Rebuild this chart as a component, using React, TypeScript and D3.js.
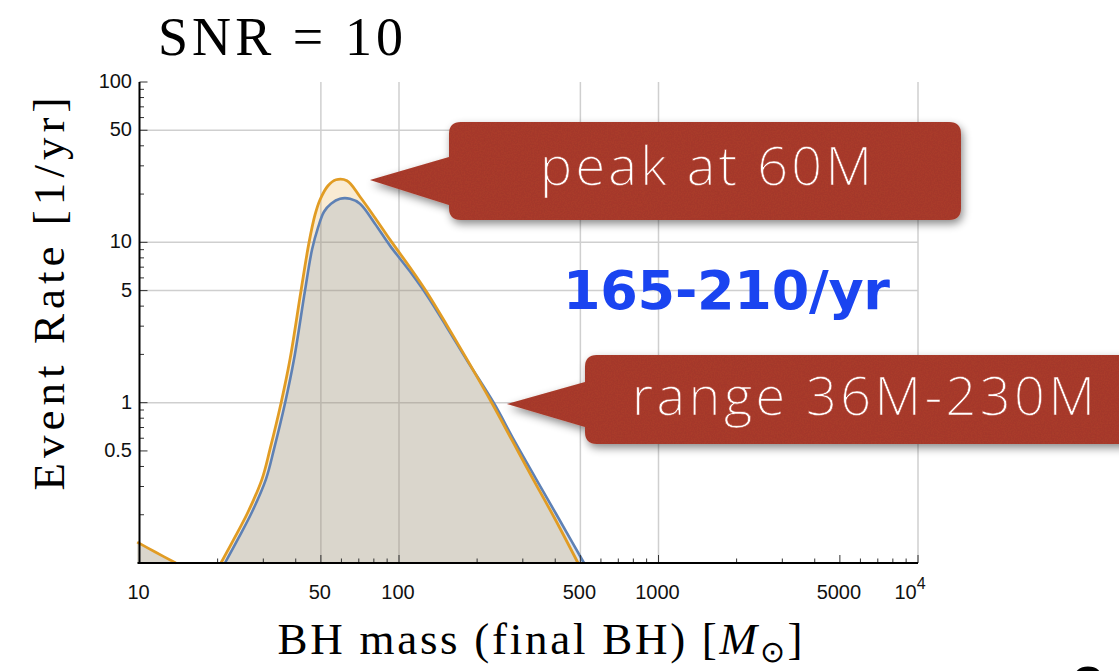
import React from 'react';
import * as d3 from 'd3';

// ---- data ----
const xTickValues = [10, 50, 100, 500, 1000, 5000];
const xTickLabels = ['10', '50', '100', '500', '1000', '5000'];
const yTickValues = [0.5, 1, 5, 10, 50, 100];
const yTickLabels = ['0.5', '1', '5', '10', '50', '100'];
const xGridValues = [50, 100, 500, 1000, 10000];
const yGridValues = [1, 5, 10, 50];

const tailMass = [9.8, 11.5, 13.8];
const tailRate = [0.135, 0.117, 0.1];

const orangeMass = [20.6, 23.13, 26.19, 29.66, 31.84, 35.1, 38.02, 41.93, 45.0, 47.48, 49.62, 53.26, 57.19, 63.04, 70.74, 80.8, 92.3, 110.3, 128.2, 153.1, 182.8, 228.3, 272.6, 325.4, 399.3, 489.6];
const orangeRate = [0.1, 0.1413, 0.208, 0.3337, 0.5129, 0.9915, 1.863, 5.005, 9.96, 14.87, 18.44, 22.54, 24.56, 24.2, 19.25, 14.24, 10.39, 6.96, 4.864, 3.03, 1.863, 0.9915, 0.5834, 0.3434, 0.1881, 0.1];

const blueMass = [21.35, 23.97, 27.13, 30.72, 32.98, 36.37, 39.39, 43.43, 46.23, 48.74, 51.4, 54.7, 59.24, 64.74, 70.74, 80.8, 92.3, 110.3, 128.2, 153.1, 182.8, 232.3, 277.5, 334.2, 413.6, 516.4];
const blueRate = [0.1, 0.1413, 0.208, 0.3337, 0.5129, 0.9915, 1.863, 5.005, 9.01, 12.35, 15.52, 17.41, 18.7, 18.7, 17.41, 13.07, 9.54, 6.57, 4.66, 2.945, 1.836, 0.9915, 0.5834, 0.3434, 0.1881, 0.1];

const title = 'SNR = 10';
const yLabel = 'Event Rate [1/yr]';
const peakText = 'peak at 60M';
const rangeText = 'range 36M-230M';
const totalText = '165-210/yr';

const BLUE = '#5E81B5';
const ORANGE = '#E19C24';
const CALLOUT = '#AE3D2D';

function calloutPath(x: number, y: number, w: number, h: number, r: number, tx: number, ty: number, b1: number, b2: number) {
  return [
    `M${x + r},${y}`,
    `L${x + w - r},${y}`,
    `Q${x + w},${y} ${x + w},${y + r}`,
    `L${x + w},${y + h - r}`,
    `Q${x + w},${y + h} ${x + w - r},${y + h}`,
    `L${x + r},${y + h}`,
    `Q${x},${y + h} ${x},${y + h - r}`,
    `L${x},${b2}`,
    `L${tx},${ty}`,
    `L${x},${b1}`,
    `L${x},${y + r}`,
    `Q${x},${y} ${x + r},${y}`,
    'Z',
  ].join(' ');
}

export default function App() {
  const x = d3.scaleLog().domain([10, 10000]).range([139.5, 918]);
  const y = d3.scaleLog().domain([0.1, 100]).range([563, 82]);
  const y0 = y(0.1);

  const zip = (a: number[], b: number[]) => a.map((m, i) => [m, b[i]] as [number, number]);
  const curve = d3.curveCatmullRom.alpha(0.5);
  const line = d3.line<[number, number]>().x(d => x(d[0])).y(d => y(d[1])).curve(curve);
  const area = d3.area<[number, number]>().x(d => x(d[0])).y0(y0).y1(d => y(d[1])).curve(curve);

  const tail = zip(tailMass, tailRate);
  const orange = zip(orangeMass, orangeRate);
  const blue = zip(blueMass, blueRate);

  const xMinor: number[] = [];
  [10, 100, 1000].forEach(d => { for (let k = 2; k <= 9; k++) if (k !== 5) xMinor.push(k * d); });
  const yMinor: number[] = [];
  [0.1, 1, 10].forEach(d => { for (let k = 2; k <= 9; k++) if (k !== 5) yMinor.push(+(k * d).toFixed(3)); });

  const xL = x(10), xR = x(10000), yT = y(100);
  const tickFont = '"Liberation Sans", Arial, sans-serif';
  const serif = '"Liberation Serif", "Times New Roman", serif';
  const calloutFont = '"Open Sans", "Noto Sans", sans-serif';

  return (
    <svg width={1119} height={671} style={{ position: 'absolute', left: 0, top: 0, background: '#fff' }}>
      <defs>
        <filter id="shadow" x="-10%" y="-20%" width="130%" height="150%">
          <feTurbulence type="fractalNoise" baseFrequency="0.7" numOctaves="2" result="noise" />
          <feColorMatrix in="noise" type="matrix" values="0 0 0 0 0  0 0 0 0 0  0 0 0 0 0  0 0 0 0.18 0" result="na" />
          <feComposite in="na" in2="SourceGraphic" operator="in" result="tex" />
          <feDropShadow dx="2" dy="4" stdDeviation="4" floodColor="#000" floodOpacity="0.45" in="SourceGraphic" result="sh" />
          <feMerge>
            <feMergeNode in="sh" />
            <feMergeNode in="tex" />
          </feMerge>
        </filter>
      </defs>

      {/* grid */}
      <g stroke="#cfcfcf" strokeWidth={1.5}>
        {yGridValues.map(v => <line key={'gy' + v} x1={xL} x2={xR} y1={y(v)} y2={y(v)} />)}
        {xGridValues.map(v => <line key={'gx' + v} x1={x(v)} x2={x(v)} y1={yT} y2={y0} />)}
      </g>

      {/* fills */}
      <path d={area(tail) || ''} fill={ORANGE} fillOpacity={0.2} />
      <path d={area(tail) || ''} fill={BLUE} fillOpacity={0.2} />
      <path d={area(orange) || ''} fill={ORANGE} fillOpacity={0.2} />
      <path d={area(blue) || ''} fill={BLUE} fillOpacity={0.2} />

      {/* lines */}
      <path d={line(blue) || ''} fill="none" stroke={BLUE} strokeWidth={2.6} strokeLinejoin="round" />
      <path d={line(tail) || ''} fill="none" stroke={ORANGE} strokeWidth={2.8} strokeLinejoin="round" />
      <path d={line(orange) || ''} fill="none" stroke={ORANGE} strokeWidth={2.8} strokeLinejoin="round" />

      {/* axes */}
      <g stroke="#333" strokeWidth={1}>
        {xTickValues.concat([10000]).map(v => <line key={'xt' + v} x1={x(v)} x2={x(v)} y1={y0} y2={y0 - 8} />)}
        {xMinor.map(v => <line key={'xm' + v} x1={x(v)} x2={x(v)} y1={y0} y2={y0 - 4.5} />)}
        {yTickValues.map(v => <line key={'yt' + v} x1={xL} x2={xL + 8} y1={y(v)} y2={y(v)} />)}
        {yMinor.map(v => <line key={'ym' + v} x1={xL} x2={xL + 4.5} y1={y(v)} y2={y(v)} />)}
      </g>
      <line x1={xL - 2} x2={xR} y1={y0} y2={y0} stroke="#000" strokeWidth={2} />
      <line x1={xL} x2={xL} y1={yT} y2={y0 + 1} stroke="#000" strokeWidth={2} />

      {/* tick labels */}
      <g fontFamily={tickFont} fontSize={20} fill="#111">
        {xTickValues.map((v, i) => (
          <text key={'xl' + v} x={x(v) - 1} y={599} textAnchor="middle">{xTickLabels[i]}</text>
        ))}
        <text x={x(10000) - 8} y={599} textAnchor="middle">10<tspan dy={-10} fontSize={16}>4</tspan></text>
        {yTickValues.map((v, i) => (
          <text key={'yl' + v} x={132} y={y(v) + 6} textAnchor="end">{yTickLabels[i]}</text>
        ))}
      </g>

      {/* titles */}
      <text x={158} y={55} fontFamily={serif} fontSize={54} textLength={245} lengthAdjust="spacing">{title}</text>
      <text transform="translate(64,294) rotate(-90)" textAnchor="middle" fontFamily={serif} fontSize={45} textLength={393} lengthAdjust="spacing">{yLabel}</text>
      <text x={540} y={654} textAnchor="middle" fontFamily={serif} fontSize={45} textLength={525} lengthAdjust="spacing">
        BH mass (final BH) [<tspan fontStyle="italic">M</tspan><tspan fontSize={30} dy={8}>⊙</tspan><tspan dy={-8}>]</tspan>
      </text>

      {/* callouts */}
      <g filter="url(#shadow)">
        <path d={calloutPath(449, 122, 512, 98, 12, 370, 180, 157, 205)} fill={CALLOUT} />
      </g>
      <text x={540} y={185} fill="#fff" stroke={CALLOUT} strokeWidth={0.6} fontFamily={calloutFont} fontWeight={300} fontSize={54} textLength={332} lengthAdjust="spacing">{peakText}</text>
      <g filter="url(#shadow)">
        <path d={calloutPath(585, 355, 560, 89, 12, 507, 404, 382, 427)} fill={CALLOUT} />
      </g>
      <text x={632} y={415} fill="#fff" stroke={CALLOUT} strokeWidth={0.6} fontFamily={calloutFont} fontWeight={300} fontSize={54} textLength={463} lengthAdjust="spacing">{rangeText}</text>

      <text x={563} y={309} fill="#1A44F0" fontFamily='"DejaVu Sans", Verdana, sans-serif' fontWeight="bold" fontSize={54} textLength={327} lengthAdjust="spacing">{totalText}</text>

      {/* slide page number, cut off */}
      <text x={1070} y={712} fontFamily={tickFont} fontSize={64} fill="#000">2</text>
    </svg>
  );
}
